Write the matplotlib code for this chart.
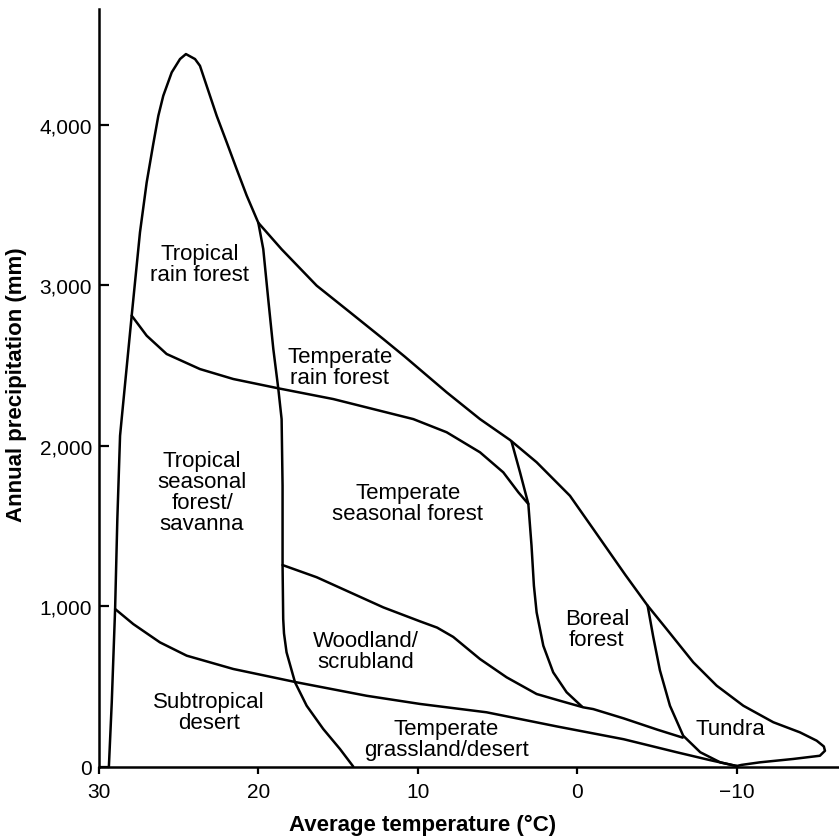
import matplotlib
matplotlib.use("Agg")
import matplotlib.pyplot as plt

plt.rcParams['font.family'] = ['Liberation Sans', 'DejaVu Sans']

# ---- data (temperature degC, precipitation mm) ----
outer_T = [29.38, 29.2, 28.99, 28.85, 28.68, 28.58, 27.95, 27.43, 27.01, 26.6,
           26.28, 25.97, 25.44, 24.92, 24.55, 23.98, 23.67, 23.25, 22.62, 21.99,
           21.37, 20.74, 20.01, 18.55, 16.35, 14.26, 12.17, 10.82, 8.2, 6.11, 4.23,
           2.56, 0.47, -0.99, -3.0, -4.4, -5.59, -7.26, -8.73, -10.4, -12.28, -13.95,
           -15.0, -15.45, -15.52, -15.2, -13.53, -11.44, -10.29, -9.98]
outer_P = [0, 400, 982, 1543, 2062, 2166, 2811, 3331, 3642, 3880,
           4057, 4182, 4328, 4411, 4442, 4411, 4369, 4244, 4057, 3891,
           3725, 3560, 3390, 3225, 2998, 2832, 2665, 2555, 2333, 2166, 2036,
           1897, 1688, 1481, 1195, 1003, 857, 650, 504, 379, 276, 213,
           161, 125, 98, 67, 47, 26, 10, 3]

tropic_T = [20.01, 19.7, 19.39, 19.07, 18.76, 18.55, 18.49, 18.49, 18.45, 18.4, 18.24,
            17.71, 16.98, 15.94, 14.89, 14.06]
tropic_P = [3390, 3226, 2915, 2603, 2358, 2166, 1751, 1252, 920, 830, 712,
            525, 379, 234, 109, 0]

rain_T = [27.95, 27.01, 25.76, 23.67, 21.58, 18.76, 15.31, 12.38, 10.29, 8.2, 6.11,
          4.65, 3.7, 3.08]
rain_P = [2811, 2686, 2572, 2478, 2416, 2358, 2291, 2218, 2166, 2084, 1959,
          1834, 1709, 1637]

boreal_T = [4.13, 3.6, 3.08, 2.88, 2.73, 2.56, 2.14, 1.52, 0.68, -0.3]
boreal_P = [2025, 1834, 1637, 1377, 1127, 961, 753, 587, 463, 372]

wood_T = [18.49, 16.35, 14.26, 12.17, 9.87, 8.8, 7.79, 6.11, 4.44, 2.56, 1.1, -0.36,
          -0.99, -2.9, -5.0, -6.6]
wood_P = [1256, 1180, 1086, 992, 905, 866, 808, 670, 556, 452, 410, 369,
          358, 300, 230, 180]

desert_T = [28.99, 27.85, 26.18, 24.5, 21.58, 17.61, 13.22, 9.87, 5.7, 1.3, -2.9,
            -6.22, -8.3, -9.98]
desert_P = [982, 888, 774, 691, 608, 525, 441, 390, 338, 250, 170,
            89, 40, 3]

tundra_T = [-4.4, -4.75, -5.17, -5.8, -6.63, -7.7, -8.95, -9.98]
tundra_P = [1003, 810, 600, 379, 192, 89, 26, 3]

biome_names = ["Tropical\nrain forest", "Temperate\nrain forest",
               "Tropical\nseasonal\nforest/\nsavanna", "Temperate\nseasonal forest",
               "Woodland/\nscrubland", "Subtropical\ndesert",
               "Temperate\ngrassland/desert", "Boreal\nforest", "Tundra"]
label_T = [23.67, 14.89, 23.54, 10.63, 13.26, 23.1, 8.24, -1.22, -9.56]
label_P = [3133, 2491, 1711, 1640, 718, 340, 171, 857, 234]

x_ticks = [30, 20, 10, 0, -10]
x_ticklabels = ["30", "20", "10", "0", "\u221210"]
y_ticks = [0, 1000, 2000, 3000, 4000]
y_ticklabels = ["0", "1,000", "2,000", "3,000", "4,000"]

# ---- figure ----
W, H = 839, 837
fig = plt.figure(figsize=(W / 100, H / 100), dpi=100)
ax = fig.add_axes([99 / W, (H - 767.5) / H, 740 / W, 757.5 / H])
ax.set_xlim(30, -16.4)
ax.set_ylim(0, 4723)

lw = 1.8
for xs, ys in [(outer_T, outer_P), (tropic_T, tropic_P), (rain_T, rain_P),
               (boreal_T, boreal_P), (wood_T, wood_P), (desert_T, desert_P),
               (tundra_T, tundra_P)]:
    ax.plot(xs, ys, color='black', lw=lw, solid_joinstyle='round',
            solid_capstyle='round', clip_on=False)

for name, t, p in zip(biome_names, label_T, label_P):
    ax.text(t, p, name, ha='center', va='center', fontsize=16, linespacing=1.0)

for s in ['top', 'right']:
    ax.spines[s].set_visible(False)
for s in ['left', 'bottom']:
    ax.spines[s].set_linewidth(lw)

ax.set_xticks(x_ticks)
ax.set_xticklabels(x_ticklabels)
ax.set_yticks(y_ticks)
ax.set_yticklabels(y_ticklabels)
ax.tick_params(axis='y', direction='in', length=7, width=1.6, labelsize=15, pad=5)
ax.tick_params(axis='x', direction='out', length=5, width=1.6, labelsize=15, pad=6)

ax.set_xlabel("Average temperature (\u00b0C)", fontsize=16, fontweight='bold')
ax.set_ylabel("Annual precipitation (mm)", fontsize=16, fontweight='bold')
ax.xaxis.set_label_coords((423 - 99) / 740, -(825 - 767.5) / 757.5)
ax.yaxis.set_label_coords(-(99 - 17) / 740, (767.5 - 385) / 757.5)
ax.xaxis.label.set_va('center')
ax.yaxis.label.set_va('center')

fig.savefig("out.png", dpi=100)
